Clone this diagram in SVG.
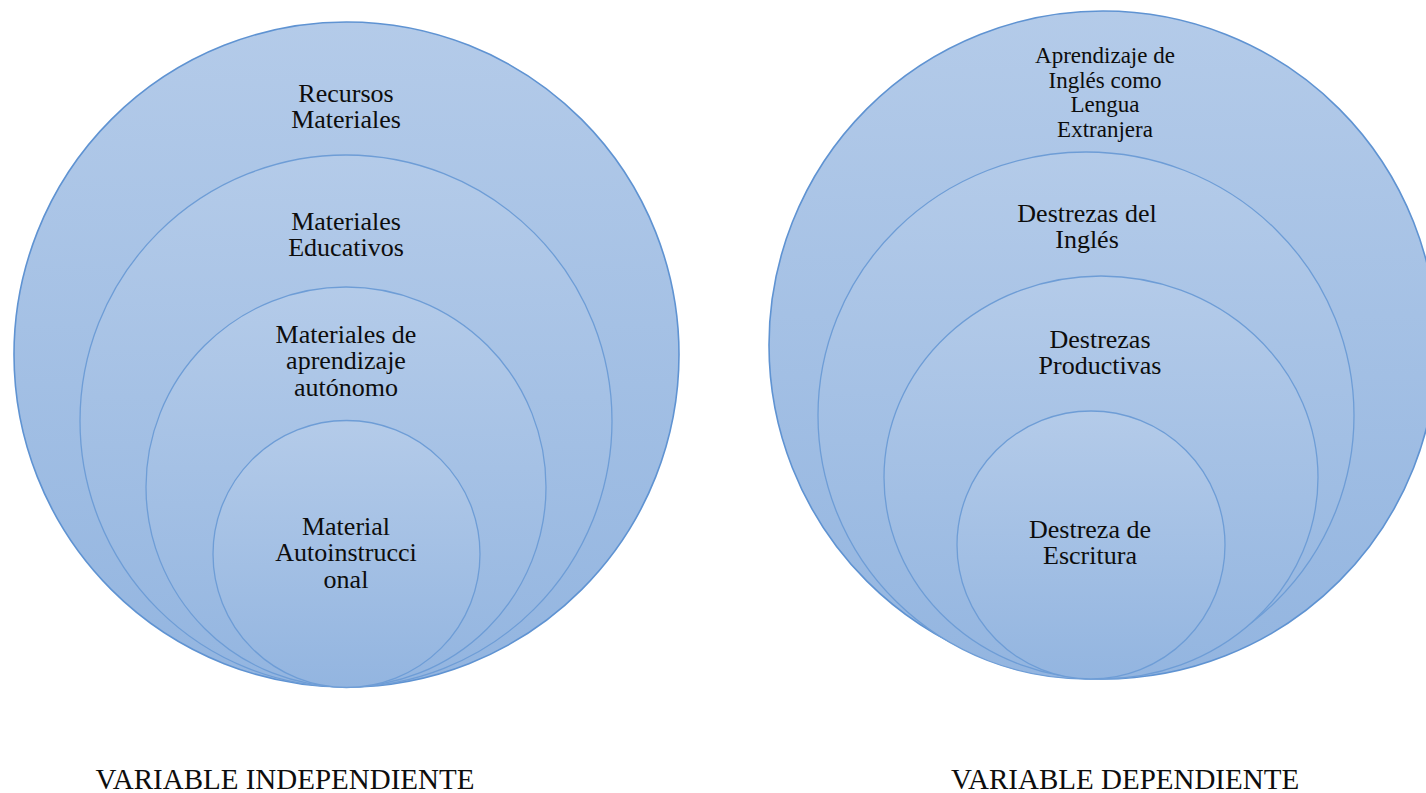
<svg xmlns="http://www.w3.org/2000/svg" width="1426" height="793" viewBox="0 0 1426 793">
<style>
.c{fill:url(#g);stroke:#6e9dd6;stroke-width:1.3}
.o{stroke:#5f93d2;stroke-width:1.6}
text{font-family:"Liberation Serif","Times New Roman",serif;font-size:26px;fill:#0d0d0d;text-anchor:middle}
.s{font-size:23px}
.b{font-size:29px}
</style>
<defs>
<linearGradient id="g" x1="0" y1="0" x2="0" y2="1">
<stop offset="0" stop-color="#b4cbe9"/>
<stop offset="1" stop-color="#93b5e0"/>
</linearGradient>
</defs>
<rect width="1426" height="793" fill="#fff"/>
<g id="left-set">
<g id="recursos-materiales">
<circle class="c o" cx="346.5" cy="354.5" r="332.5"/>
<text x="346" y="102">Recursos</text>
<text x="346" y="128">Materiales</text>
</g>
<g id="materiales-educativos">
<circle class="c" cx="346" cy="421" r="266"/>
<text x="346" y="230">Materiales</text>
<text x="346" y="256">Educativos</text>
</g>
<g id="materiales-aprendizaje-autonomo">
<circle class="c" cx="346" cy="487" r="200"/>
<text x="346" y="343">Materiales de</text>
<text x="346" y="369">aprendizaje</text>
<text x="346" y="396">autónomo</text>
</g>
<g id="material-autoinstruccional">
<circle class="c" cx="346.5" cy="554" r="133.5"/>
<text x="346" y="535">Material</text>
<text x="346" y="561">Autoinstrucci</text>
<text x="346" y="588">onal</text>
</g>
</g>
<g id="right-set">
<g id="aprendizaje-ingles">
<circle class="c o" cx="1103" cy="345" r="334"/>
<text class="s" x="1105" y="63">Aprendizaje de</text>
<text class="s" x="1105" y="88">Inglés como</text>
<text class="s" x="1105" y="112">Lengua</text>
<text class="s" x="1105" y="137">Extranjera</text>
</g>
<g id="destrezas-ingles">
<ellipse class="c" cx="1086" cy="415.5" rx="268" ry="263.5"/>
<text x="1087" y="222">Destrezas del</text>
<text x="1087" y="248">Inglés</text>
</g>
<g id="destrezas-productivas">
<ellipse class="c" cx="1101" cy="477.5" rx="217" ry="201.5"/>
<text x="1100" y="348">Destrezas</text>
<text x="1100" y="374">Productivas</text>
</g>
<g id="destreza-escritura">
<circle class="c" cx="1091" cy="545" r="134"/>
<text x="1090" y="538">Destreza de</text>
<text x="1090" y="564">Escritura</text>
</g>
</g>
<g id="connectors"/>
<g id="labels">
<text class="b" x="285" y="789">VARIABLE INDEPENDIENTE</text>
<text class="b" x="1125" y="789">VARIABLE DEPENDIENTE</text>
</g>
</svg>
